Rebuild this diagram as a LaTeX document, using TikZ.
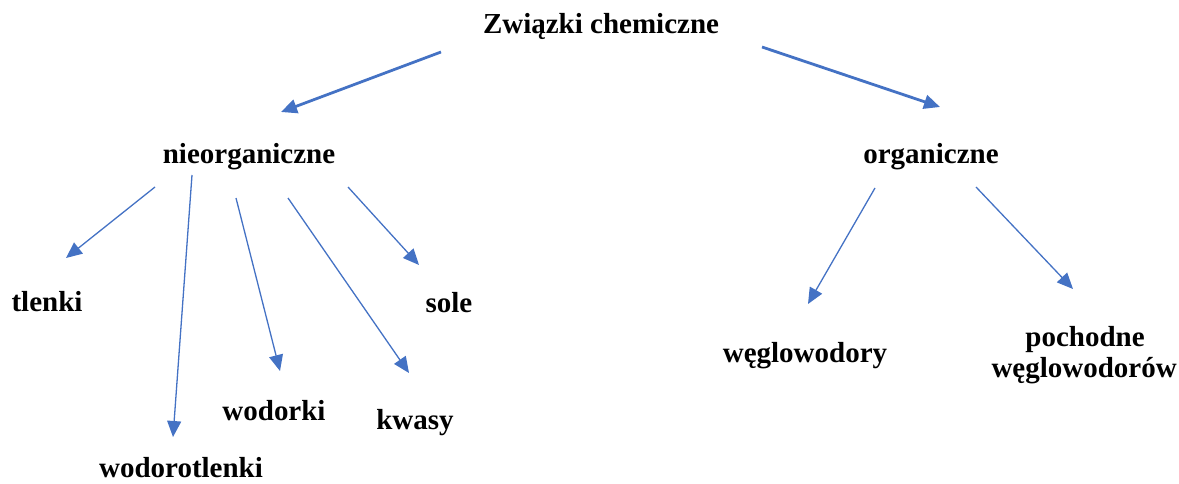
\documentclass[tikz,border=0pt]{standalone}
\usepackage{fontspec}
\setmainfont{Liberation Serif}
\usetikzlibrary{arrows.meta}
\definecolor{arrowblue}{HTML}{4472C4}
\begin{document}
\begin{tikzpicture}[x=1pt,y=-1pt,
  lbl/.style={anchor=base,inner sep=0pt,font=\bfseries\fontsize{29}{33}\selectfont},
  thickarrow/.style={draw=arrowblue,line width=2.8pt,-{Triangle[length=16pt,width=14pt]},arrowblue},
  thinarrow/.style={draw=arrowblue,line width=1.3pt,-{Triangle[length=16pt,width=14pt]},arrowblue}]
\useasboundingbox (0,0) rectangle (1179,484);
% labels
\node[lbl] (root) at (601,34) {Związki chemiczne};
\node[lbl] (nieorg) at (249,164) {nieorganiczne};
\node[lbl] (org) at (931,164) {organiczne};
\node[lbl] (tlenki) at (47,311) {tlenki};
\node[lbl] (sole) at (449,312) {sole};
\node[lbl] (wodorki) at (274,420) {wodorki};
\node[lbl] (kwasy) at (415,429) {kwasy};
\node[lbl] (wodorotlenki) at (181,477) {wodorotlenki};
\node[lbl] (weglo) at (805,362) {węglowodory};
\node[lbl] (poch) at (1085,346) {pochodne};
\node[lbl,anchor=base east] (pochb) at (1177,377) {węglowodorów};
% arrow end points
\coordinate (a1s) at (441,52);  \coordinate (a1e) at (281,112);
\coordinate (a2s) at (762,47);  \coordinate (a2e) at (940,107);
\coordinate (b1s) at (155,187); \coordinate (b1e) at (66,258);
\coordinate (b2s) at (192,175); \coordinate (b2e) at (173,437);
\coordinate (b3s) at (236,198); \coordinate (b3e) at (280,371);
\coordinate (b4s) at (288,198); \coordinate (b4e) at (409,373);
\coordinate (b5s) at (348,187); \coordinate (b5e) at (419,265);
\coordinate (c1s) at (875,188); \coordinate (c1e) at (808,304);
\coordinate (c2s) at (976,187); \coordinate (c2e) at (1073,289);
% arrows
\draw[thickarrow] (a1s) -- (a1e);
\draw[thickarrow] (a2s) -- (a2e);
\draw[thinarrow] (b1s) -- (b1e);
\draw[thinarrow] (b2s) -- (b2e);
\draw[thinarrow] (b3s) -- (b3e);
\draw[thinarrow] (b4s) -- (b4e);
\draw[thinarrow] (b5s) -- (b5e);
\draw[thinarrow] (c1s) -- (c1e);
\draw[thinarrow] (c2s) -- (c2e);
\end{tikzpicture}
\end{document}
